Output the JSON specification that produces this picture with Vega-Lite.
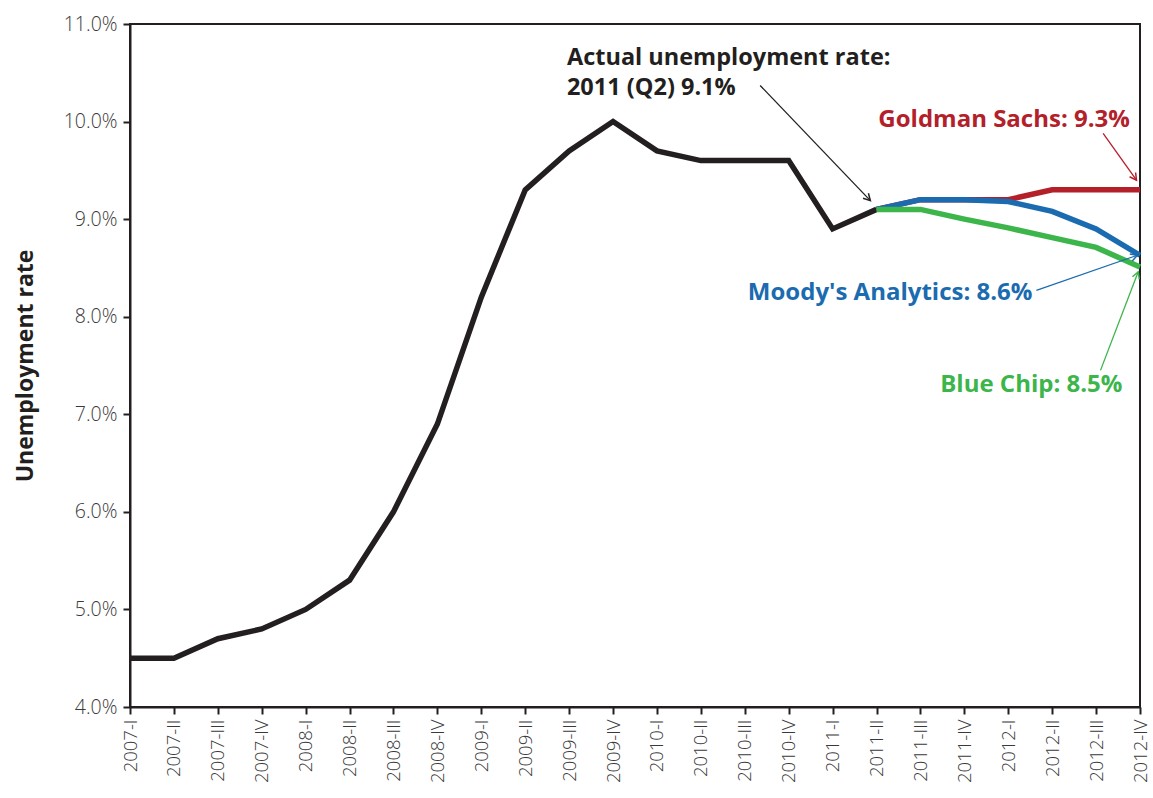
{
  "$schema": "https://vega.github.io/schema/vega-lite/v6.json",
  "width": 1010,
  "height": 683,
  "autosize": {"type": "none"},
  "padding": {"left": 130, "top": 24, "right": 13, "bottom": 91},
  "background": "white",
  "config": {
    "view": {"stroke": "#231f20", "strokeWidth": 2},
    "axis": {
      "grid": false,
      "domainColor": "#231f20",
      "domainWidth": 2,
      "tickColor": "#231f20",
      "tickWidth": 2,
      "tickSize": 7,
      "labelColor": "#3a3a3a",
      "labelFont": "Open Sans",
      "labelFontWeight": 300,
      "titleFont": "Open Sans",
      "titleColor": "#231f20"
    }
  },
  "datasets": {
    "lines": [
      {"series": "Actual", "i": 0, "rate": 4.5},
      {"series": "Actual", "i": 1, "rate": 4.5},
      {"series": "Actual", "i": 2, "rate": 4.7},
      {"series": "Actual", "i": 3, "rate": 4.8},
      {"series": "Actual", "i": 4, "rate": 5.0},
      {"series": "Actual", "i": 5, "rate": 5.3},
      {"series": "Actual", "i": 6, "rate": 6.0},
      {"series": "Actual", "i": 7, "rate": 6.9},
      {"series": "Actual", "i": 8, "rate": 8.2},
      {"series": "Actual", "i": 9, "rate": 9.3},
      {"series": "Actual", "i": 10, "rate": 9.7},
      {"series": "Actual", "i": 11, "rate": 10.0},
      {"series": "Actual", "i": 12, "rate": 9.7},
      {"series": "Actual", "i": 13, "rate": 9.6},
      {"series": "Actual", "i": 14, "rate": 9.6},
      {"series": "Actual", "i": 15, "rate": 9.6},
      {"series": "Actual", "i": 16, "rate": 8.9},
      {"series": "Actual", "i": 17, "rate": 9.1},
      {"series": "Goldman Sachs", "i": 17, "rate": 9.1},
      {"series": "Goldman Sachs", "i": 18, "rate": 9.2},
      {"series": "Goldman Sachs", "i": 19, "rate": 9.2},
      {"series": "Goldman Sachs", "i": 20, "rate": 9.2},
      {"series": "Goldman Sachs", "i": 21, "rate": 9.3},
      {"series": "Goldman Sachs", "i": 22, "rate": 9.3},
      {"series": "Goldman Sachs", "i": 23, "rate": 9.3},
      {"series": "Moody's Analytics", "i": 17, "rate": 9.1},
      {"series": "Moody's Analytics", "i": 18, "rate": 9.2},
      {"series": "Moody's Analytics", "i": 19, "rate": 9.2},
      {"series": "Moody's Analytics", "i": 20, "rate": 9.18},
      {"series": "Moody's Analytics", "i": 21, "rate": 9.08},
      {"series": "Moody's Analytics", "i": 22, "rate": 8.9},
      {"series": "Moody's Analytics", "i": 23, "rate": 8.63},
      {"series": "Blue Chip", "i": 17, "rate": 9.1},
      {"series": "Blue Chip", "i": 18, "rate": 9.1},
      {"series": "Blue Chip", "i": 19, "rate": 9.0},
      {"series": "Blue Chip", "i": 20, "rate": 8.91},
      {"series": "Blue Chip", "i": 21, "rate": 8.81},
      {"series": "Blue Chip", "i": 22, "rate": 8.71},
      {"series": "Blue Chip", "i": 23, "rate": 8.51}
    ],
    "arrows": [
      {"series": "Actual", "x1": 14.35, "y1": 10.37, "x2": 16.86, "y2": 9.19},
      {"series": "Goldman Sachs", "x1": 22.16, "y1": 9.88, "x2": 22.92, "y2": 9.4},
      {"series": "Moody's Analytics", "x1": 20.64, "y1": 8.27, "x2": 22.94, "y2": 8.63},
      {"series": "Blue Chip", "x1": 22.1, "y1": 7.45, "x2": 22.96, "y2": 8.46}
    ],
    "labels": [
      {"series": "Goldman Sachs", "label": "Goldman Sachs: 9.3%", "x": 22.77, "y": 10.02},
      {"series": "Moody's Analytics", "label": "Moody's Analytics: 8.6%", "x": 20.55, "y": 8.24},
      {"series": "Blue Chip", "label": "Blue Chip: 8.5%", "x": 22.6, "y": 7.3}
    ],
    "actualLabel": [
      {"series": "Actual", "label": "Actual unemployment rate:", "x": 9.95, "y": 10.65},
      {"series": "Actual", "label": "2011 (Q2) 9.1%", "x": 9.95, "y": 10.34}
    ]
  },
  "layer": [
    {
      "data": {"name": "lines"},
      "mark": {"type": "line", "strokeWidth": 5.5, "clip": false},
      "encoding": {
        "x": {
          "field": "i",
          "type": "quantitative",
          "scale": {"domain": [0, 23], "nice": false, "zero": false},
          "axis": {
            "title": null,
            "values": [0,1,2,3,4,5,6,7,8,9,10,11,12,13,14,15,16,17,18,19,20,21,22,23],
            "labelExpr": "['2007-I','2007-II','2007-III','2007-IV','2008-I','2008-II','2008-III','2008-IV','2009-I','2009-II','2009-III','2009-IV','2010-I','2010-II','2010-III','2010-IV','2011-I','2011-II','2011-III','2011-IV','2012-I','2012-II','2012-III','2012-IV'][datum.value]",
            "labelAngle": -90,
            "labelFontSize": 18.5,
            "labelPadding": 5,
            "labelOverlap": false,
            "labelBound": false,
            "labelFlush": false
          }
        },
        "y": {
          "field": "rate",
          "type": "quantitative",
          "scale": {"domain": [4, 11], "nice": false, "zero": false},
          "axis": {
            "title": "Unemployment rate",
            "titleFontSize": 23,
            "titleFontWeight": "bold",
            "titlePadding": 26,
            "values": [4,5,6,7,8,9,10,11],
            "labelExpr": "format(datum.value, '.1f') + '%'",
            "labelFontSize": 19.5,
            "labelPadding": 6
          }
        },
        "color": {
          "field": "series",
          "type": "nominal",
          "legend": null,
          "scale": {
            "domain": ["Actual", "Goldman Sachs", "Moody's Analytics", "Blue Chip"],
            "range": ["#231f20", "#b3202a", "#1b6bb0", "#3cb54a"]
          }
        }
      }
    },
    {
      "data": {"name": "arrows"},
      "mark": {"type": "rule", "strokeWidth": 1.3},
      "encoding": {
        "x": {"field": "x1", "type": "quantitative"},
        "y": {"field": "y1", "type": "quantitative"},
        "x2": {"field": "x2"},
        "y2": {"field": "y2"},
        "color": {"field": "series", "type": "nominal", "legend": null}
      }
    },
    {
      "data": {"name": "arrows"},
      "transform": [
        {"calculate": "atan2((datum.x2 - datum.x1) * 43.91, (datum.y2 - datum.y1) * 97.57) * 180 / PI", "as": "ang"}
      ],
      "mark": {
        "type": "point",
        "shape": "M-0.55,1 L0,0 L0.55,1",
        "filled": false,
        "strokeWidth": 1.5,
        "size": 180,
        "opacity": 1
      },
      "encoding": {
        "x": {"field": "x2", "type": "quantitative"},
        "y": {"field": "y2", "type": "quantitative"},
        "angle": {"field": "ang", "type": "quantitative", "scale": null},
        "color": {"field": "series", "type": "nominal", "legend": null}
      }
    },
    {
      "data": {"name": "labels"},
      "mark": {"type": "text", "align": "right", "baseline": "middle", "font": "Open Sans", "fontWeight": "bold", "fontSize": 24},
      "encoding": {
        "x": {"field": "x", "type": "quantitative"},
        "y": {"field": "y", "type": "quantitative"},
        "text": {"field": "label"},
        "color": {"field": "series", "type": "nominal", "legend": null}
      }
    },
    {
      "data": {"name": "actualLabel"},
      "mark": {"type": "text", "align": "left", "baseline": "middle", "font": "Open Sans", "fontWeight": "bold", "fontSize": 23.5},
      "encoding": {
        "x": {"field": "x", "type": "quantitative"},
        "y": {"field": "y", "type": "quantitative"},
        "text": {"field": "label"},
        "color": {"field": "series", "type": "nominal", "legend": null}
      }
    }
  ]
}
